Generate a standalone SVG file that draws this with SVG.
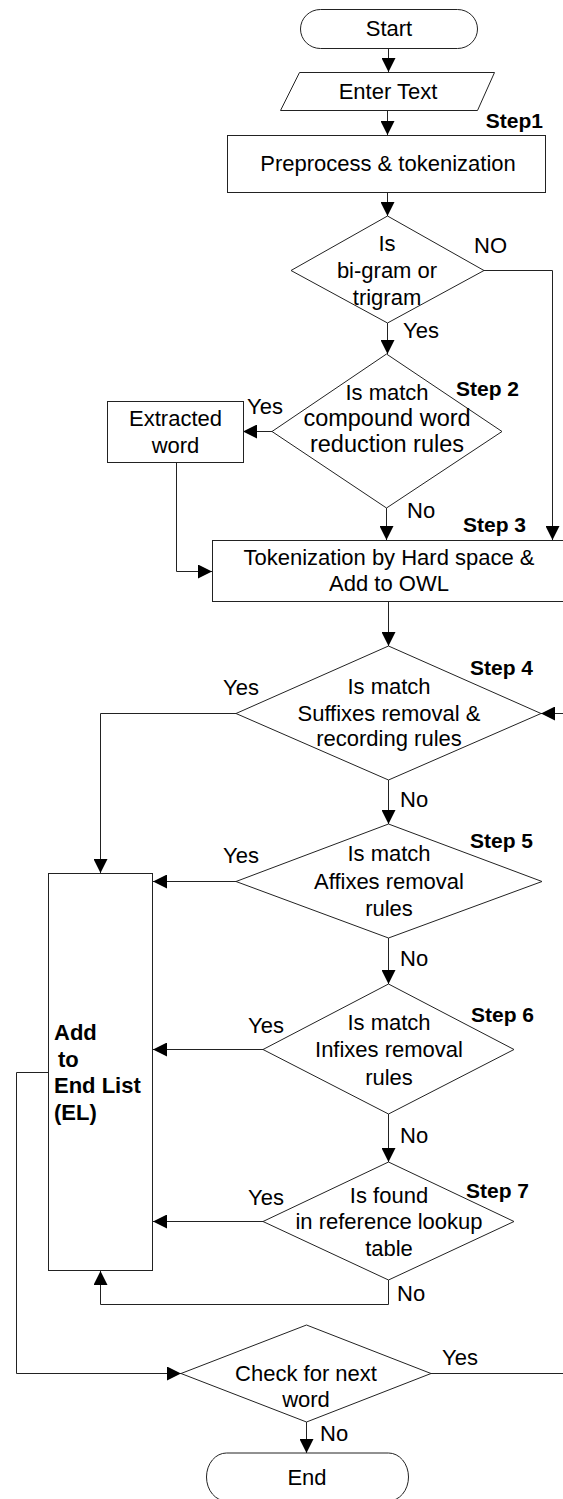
<svg xmlns="http://www.w3.org/2000/svg" width="563" height="1499" viewBox="0 0 563 1499">
<style>
.s{fill:#fff;stroke:#222;stroke-width:1}
.c{fill:none;stroke:#222;stroke-width:1}
text{font-family:"Liberation Sans",Arial,sans-serif;font-size:22px;fill:#000}
.m{text-anchor:middle}
.b{font-weight:bold;font-size:21px}
.e{font-weight:bold;font-size:22px}
.w{font-size:23.5px}
</style>
<defs>
<marker id="a" markerUnits="userSpaceOnUse" markerWidth="14" markerHeight="14" refX="14" refY="7" orient="auto">
<path d="M0,0 L14,7 L0,14 z" fill="#000"/>
</marker>
</defs>
<g id="connectors">
<line class="c" x1="388.5" y1="48" x2="388.5" y2="72" marker-end="url(#a)"/>
<line class="c" x1="387.5" y1="110" x2="387.5" y2="135" marker-end="url(#a)"/>
<line class="c" x1="387.5" y1="192" x2="387.5" y2="216" marker-end="url(#a)"/>
<polyline class="c" points="484,270.5 552.5,270.5 552.5,540" marker-end="url(#a)"/>
<line class="c" x1="387.5" y1="323" x2="387.5" y2="354" marker-end="url(#a)"/>
<line class="c" x1="272" y1="431.5" x2="243" y2="431.5" marker-end="url(#a)"/>
<polyline class="c" points="176.5,462 176.5,571.5 212,571.5" marker-end="url(#a)"/>
<line class="c" x1="386.5" y1="508" x2="386.5" y2="540" marker-end="url(#a)"/>
<line class="c" x1="388.5" y1="601" x2="388.5" y2="646" marker-end="url(#a)"/>
<polyline class="c" points="236,713.5 100.5,713.5 100.5,873" marker-end="url(#a)"/>
<line class="c" x1="563" y1="713.5" x2="541" y2="713.5" marker-end="url(#a)"/>
<line class="c" x1="388.5" y1="780" x2="388.5" y2="824" marker-end="url(#a)"/>
<line class="c" x1="236" y1="881.5" x2="153" y2="881.5" marker-end="url(#a)"/>
<line class="c" x1="388.5" y1="938" x2="388.5" y2="984" marker-end="url(#a)"/>
<line class="c" x1="263" y1="1049.5" x2="153" y2="1049.5" marker-end="url(#a)"/>
<line class="c" x1="388.5" y1="1114" x2="388.5" y2="1162" marker-end="url(#a)"/>
<line class="c" x1="263" y1="1221.5" x2="153" y2="1221.5" marker-end="url(#a)"/>
<polyline class="c" points="388.5,1280 388.5,1304.5 100.5,1304.5 100.5,1271" marker-end="url(#a)"/>
<polyline class="c" points="48.5,1072.5 16.5,1072.5 16.5,1373.5 181,1373.5" marker-end="url(#a)"/>
<line class="c" x1="431" y1="1373.5" x2="563" y2="1373.5"/>
<line class="c" x1="306.5" y1="1422" x2="306.5" y2="1453" marker-end="url(#a)"/>
</g>
<g id="labels">
<text x="474" y="253">NO</text>
<text x="403" y="338">Yes</text>
<text x="247" y="414">Yes</text>
<text x="407" y="518">No</text>
<text x="223" y="695">Yes</text>
<text x="400" y="807">No</text>
<text x="223" y="863">Yes</text>
<text x="400" y="966">No</text>
<text x="248" y="1033">Yes</text>
<text x="400" y="1143">No</text>
<text x="248" y="1205">Yes</text>
<text x="397" y="1301">No</text>
<text x="442" y="1365">Yes</text>
<text x="320" y="1441">No</text>
<text class="b" x="543" y="128" text-anchor="end">Step1</text>
<text class="b" x="456" y="396">Step 2</text>
<text class="b" x="463" y="532">Step 3</text>
<text class="b" x="470" y="675">Step 4</text>
<text class="b" x="470" y="848">Step 5</text>
<text class="b" x="471" y="1022">Step 6</text>
<text class="b" x="466" y="1198">Step 7</text>
</g>
<g id="start">
<rect class="s" x="300.5" y="9.5" width="177" height="39" rx="20" ry="19.5"/>
<text class="m" x="389" y="36">Start</text>
</g>
<g id="enter">
<polygon class="s" points="299.5,72.5 494.5,72.5 477.5,110.5 280.5,110.5"/>
<text class="m" x="388" y="99">Enter Text</text>
</g>
<g id="step1">
<rect class="s" x="227.5" y="135.5" width="318" height="57"/>
<text class="m" x="388" y="171">Preprocess &amp; tokenization</text>
</g>
<g id="d1">
<polygon class="s" points="387.5,216 484,270.5 387.5,323 291,270.5"/>
<text class="m" x="387" y="251">Is</text>
<text class="m" x="387" y="278">bi-gram or</text>
<text class="m" x="387" y="305">trigram</text>
</g>
<g id="d2">
<polygon class="s" points="386.5,354 502,431.5 386.5,508 272,431.5"/>
<text class="m" x="387" y="400">Is match</text>
<text class="m w" x="387" y="426">compound word</text>
<text class="m w" x="387" y="452">reduction rules</text>
</g>
<g id="extracted">
<rect class="s" x="107.5" y="401.5" width="136" height="61"/>
<text class="m" x="175.5" y="426">Extracted</text>
<text class="m" x="175.5" y="453">word</text>
</g>
<g id="step3">
<rect class="s" x="212.5" y="540.5" width="353" height="61"/>
<text class="m" x="389" y="565">Tokenization by Hard space &amp;</text>
<text class="m" x="389" y="591">Add to OWL</text>
</g>
<g id="d4">
<polygon class="s" points="388.5,646 541,713.5 388.5,780 236,713.5"/>
<text class="m" x="389" y="694">Is match</text>
<text class="m" x="389" y="721">Suffixes removal &amp;</text>
<text class="m" x="389" y="746">recording rules</text>
</g>
<g id="d5">
<polygon class="s" points="388.5,824 542,881.5 388.5,938 236,881.5"/>
<text class="m" x="389" y="861">Is match</text>
<text class="m" x="389" y="889">Affixes removal</text>
<text class="m" x="389" y="916">rules</text>
</g>
<g id="endlist">
<rect class="s" x="48.5" y="873.5" width="104" height="397"/>
<text class="e" x="54" y="1040">Add</text>
<text class="e" x="58" y="1067">to</text>
<text class="e" x="54" y="1093">End List</text>
<text class="e" x="54" y="1120">(EL)</text>
</g>
<g id="d6">
<polygon class="s" points="388.5,984 514,1049.5 388.5,1114 263,1049.5"/>
<text class="m" x="389" y="1030">Is match</text>
<text class="m" x="389" y="1057">Infixes removal</text>
<text class="m" x="389" y="1085">rules</text>
</g>
<g id="d7">
<polygon class="s" points="388.5,1162 514,1221.5 388.5,1280 263,1221.5"/>
<text class="m" x="389" y="1203">Is found</text>
<text class="m" x="389" y="1229">in reference lookup</text>
<text class="m" x="389" y="1256">table</text>
</g>
<g id="d8">
<polygon class="s" points="306.5,1325 431,1373.5 306.5,1422 181,1373.5"/>
<text class="m" x="306" y="1381">Check for next</text>
<text class="m" x="306" y="1407">word</text>
</g>
<g id="end">
<rect class="s" x="206.5" y="1453" width="202" height="48" rx="20" ry="24"/>
<text class="m" x="307" y="1485">End</text>
</g>
</svg>
